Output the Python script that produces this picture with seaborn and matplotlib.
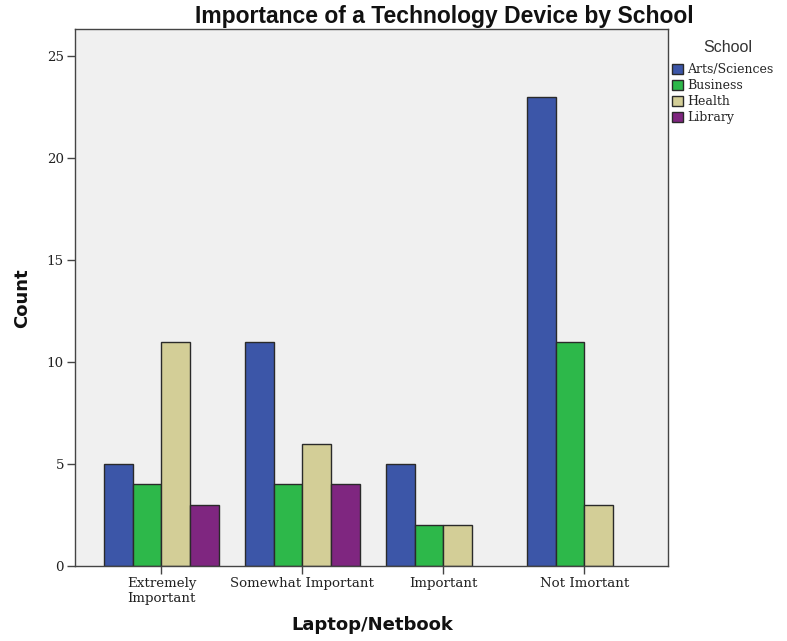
import pandas as pd
import matplotlib
matplotlib.use("Agg")
import matplotlib.pyplot as plt
import seaborn as sns

# data
categories = ["Extremely\nImportant", "Somewhat Important", "Important", "Not Imortant"]
schools = ["Arts/Sciences", "Business", "Health", "Library"]
arts_sciences = [5, 11, 5, 23]
business = [4, 4, 2, 11]
health = [11, 6, 2, 3]
library = [3, 4, None, None]   # no Library bars in the last two groups

colors = ["#3C56A8", "#2DB84A", "#D3CE97", "#7F2680"]

rows = []
for school, vals in zip(schools, [arts_sciences, business, health, library]):
    for cat, v in zip(categories, vals):
        if v is not None:
            rows.append({"Laptop/Netbook": cat, "School": school, "Count": v})
df = pd.DataFrame(rows)

sns.set_style("white")
serif = ["DejaVu Serif"]
sans = ["Liberation Sans", "DejaVu Sans"]
wide = ["DejaVu Sans"]

fig = plt.figure(figsize=(7.87, 6.41), dpi=100)
ax = fig.add_axes([75 / 787, 1 - 566 / 641, (668 - 75) / 787, (566 - 29) / 641])
ax.set_facecolor("#F0F0F0")

sns.barplot(data=df, x="Laptop/Netbook", y="Count", hue="School",
            order=categories, hue_order=schools, palette=colors,
            width=0.81, edgecolor="#2a2a2a", linewidth=1.0, saturation=1,
            ax=ax)

ax.set_ylim(0, 26.33)
ax.set_xlim(-0.613, 3.593)
ax.set_yticks([0, 5, 10, 15, 20, 25])

for side in ax.spines.values():
    side.set_color("#444444")
    side.set_linewidth(1.0)

ax.tick_params(axis="both", which="major", bottom=True, left=True,
               direction="out", length=6, width=1, color="#444444",
               labelsize=9.6, labelcolor="#222222", pad=2)
for lab in ax.get_xticklabels() + ax.get_yticklabels():
    lab.set_family(serif)

ax.set_xlabel("")
ax.set_ylabel("")
fig.text(372 / 787, 1 - 625 / 641, "Laptop/Netbook", ha="center", va="center",
         fontsize=13, fontweight="bold", family=wide, color="#111111")
fig.text(22 / 787, 1 - 298 / 641, "Count", ha="center", va="center", rotation=90,
         fontsize=13, fontweight="bold", family=wide, color="#111111")

fig.text(444 / 787, 1 - 16 / 641, "Importance of a Technology Device by School",
         ha="center", va="center", fontsize=16.5, fontweight="bold", family=sans,
         color="#111111")

fig.text(728 / 787, 1 - 47 / 641, "School", ha="center", va="center",
         fontsize=11.5, family=sans, color="#333333")

handles, labels = ax.get_legend_handles_labels()
leg = ax.legend(handles, labels, loc="upper left",
                bbox_to_anchor=(672 / 787, 1 - 63 / 641), bbox_transform=fig.transFigure,
                frameon=False, prop={"family": serif, "size": 9},
                handlelength=0.9, handleheight=0.9, handletextpad=0.3,
                labelspacing=0.25, borderaxespad=0, borderpad=0.0)

fig.savefig("out.png", dpi=100)
